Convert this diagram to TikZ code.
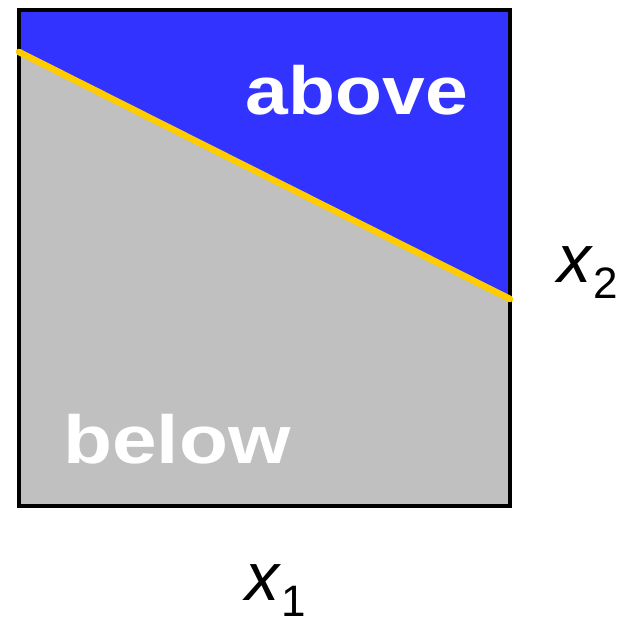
\documentclass[tikz,border=0pt]{standalone}
\usepackage{fontspec}
\setmainfont{Liberation Sans}
\definecolor{blueA}{HTML}{3333FF}
\definecolor{grayA}{HTML}{C0C0C0}
\definecolor{yellowA}{HTML}{FFCC00}
\tikzset{
  region label/.style={text=white, font=\fontsize{68}{68}\selectfont\bfseries, anchor=base, inner sep=0pt},
  axis label/.style={text=black, anchor=base west, inner sep=0pt}
}
\begin{document}
\begin{tikzpicture}[x=1pt,y=-1pt]
\useasboundingbox (0,0) rectangle (631,618);
\coordinate (tl) at (19,10);
\coordinate (tr) at (510,10);
\coordinate (br) at (510,506);
\coordinate (bl) at (19,506);
\coordinate (ls) at (19,52);
\coordinate (le) at (510,299);
\fill[blueA] (tl) -- (tr) -- (le) -- (ls) -- cycle;
\fill[grayA] (ls) -- (le) -- (br) -- (bl) -- cycle;
\draw[line width=4pt] (tl) rectangle (br);
\draw[yellowA, line width=6.5pt, line cap=round] (ls) -- (le);
\node[region label] (above) at (357,114) {\scalebox{1.13}[1]{above}};
\node[region label] (below) at (177,463) {\scalebox{1.18}[1]{below}};
\node[axis label] (x2) at (557,282) {\fontsize{68}{68}\selectfont\itshape x\kern2pt\raisebox{-16pt}{\fontsize{44}{44}\selectfont\upshape 2}};
\node[axis label] (x1) at (245,600) {\fontsize{68}{68}\selectfont\itshape x\kern2pt\raisebox{-16pt}{\fontsize{44}{44}\selectfont\upshape 1}};
\end{tikzpicture}
\end{document}
